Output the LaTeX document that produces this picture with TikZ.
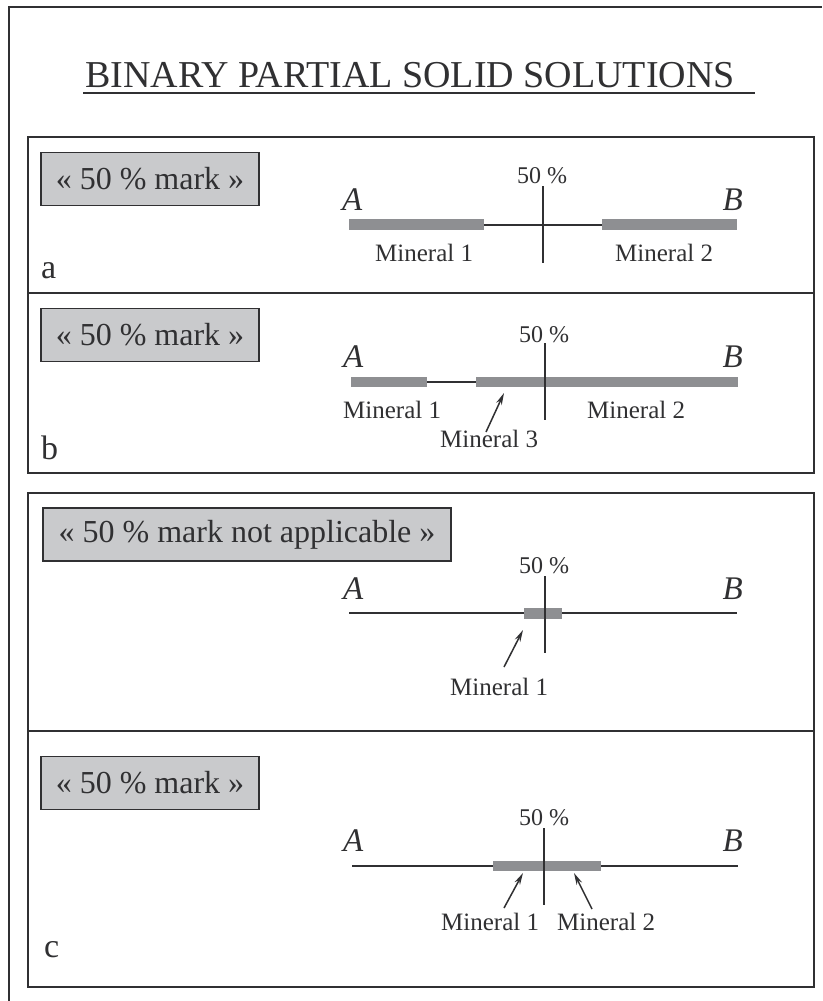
\documentclass[tikz,border=0pt]{standalone}
\usepackage{fontspec}
\setmainfont{Liberation Serif}
\usetikzlibrary{arrows.meta}
\definecolor{ink}{HTML}{303032}
\definecolor{barg}{HTML}{8E8F92}
\definecolor{boxg}{HTML}{C9CACC}
\begin{document}
\begin{tikzpicture}[x=1pt,y=-1pt,
  frame/.style={draw=ink, line width=2.4pt},
  markbox/.style={draw=ink, line width=1.8pt, fill=boxg, text=ink, font=\fontsize{32}{32}\selectfont, inner sep=0pt, minimum height=53pt},
  txt/.style={inner sep=0pt, text=ink},
  lbl/.style={txt, font=\fontsize{25}{25}\selectfont, anchor=base west},
  pct/.style={txt, font=\fontsize{24}{24}\selectfont, anchor=base west},
  endA/.style={txt, font=\fontsize{33}{33}\selectfont\itshape, anchor=base west},
  endB/.style={txt, font=\fontsize{33}{33}\selectfont\itshape, anchor=base east},
  panellbl/.style={txt, font=\fontsize{34}{34}\selectfont, anchor=base west},
  axisline/.style={draw=ink, line width=2pt},
  tickline/.style={draw=ink, line width=2.4pt},
  barfill/.style={fill=barg},
  pointer/.style={draw=ink, line width=1.5pt, -{Stealth[length=12pt,width=6pt]}}
]
\useasboundingbox (0,0) rectangle (822,1001);
\fill[white] (0,0) rectangle (822,1001);
% outer frame (cropped)
\draw[frame] (9,1001) -- (9,7) -- (822,7);
% title
\node[txt, font=\fontsize{38}{38}\selectfont, anchor=base west] (title) at (85,87) {BINARY PARTIAL SOLID SOLUTIONS};
\draw[ink, line width=1.8pt] (83,93) -- (755,93);
% panel boxes
\draw[frame] (28,137) rectangle (814,293);
\draw[frame] (28,293) rectangle (814,473);
\draw[frame] (28,493) rectangle (814,987);
\draw[frame] (28,731) -- (814,731);

% ---------- panel a ----------
\node[markbox, minimum width=218pt] (boxa) at (150,179) {« 50 \% mark »};
\node[panellbl] (la) at (41,278) {a};
\fill[barfill] (349,219) rectangle (484,230);
\fill[barfill] (602,219) rectangle (737,230);
\draw[axisline] (484,224.5) -- (602,224.5);
\draw[tickline] (543,186) -- (543,263);
\node[pct] (pa) at (517,183) {50 \%};
\node[endA] (Aa) at (342,210) {A};
\node[endB] (Ba) at (743,210) {B};
\node[lbl] (ma1) at (375,261) {Mineral 1};
\node[lbl] (ma2) at (615,261) {Mineral 2};

% ---------- panel b ----------
\node[markbox, minimum width=218pt] (boxb) at (150,335) {« 50 \% mark »};
\node[panellbl] (lb) at (41,459) {b};
\fill[barfill] (351,377) rectangle (427,387);
\fill[barfill] (476,377) rectangle (738,387);
\draw[axisline] (427,382) -- (476,382);
\draw[tickline] (545,343) -- (545,420);
\node[pct] (pb) at (519,342) {50 \%};
\node[endA] (Ab) at (343,367) {A};
\node[endB] (Bb) at (743,367) {B};
\node[lbl] (mb1) at (343,418) {Mineral 1};
\node[lbl] (mb2) at (587,418) {Mineral 2};
\node[lbl] (mb3) at (440,447) {Mineral 3};
\coordinate (tb3) at (486,432);
\coordinate (hb3) at (504,393);
\draw[pointer] (tb3) -- (hb3);

% ---------- panel c (upper) ----------
\node[markbox, minimum width=408pt] (boxc1) at (247,534.5) {« 50 \% mark not applicable »};
\draw[axisline] (349,613) -- (737,613);
\fill[barfill] (524,608) rectangle (562,619);
\draw[tickline] (545,576) -- (545,653);
\node[pct] (pc1) at (519,573) {50 \%};
\node[endA] (Ac1) at (343,599) {A};
\node[endB] (Bc1) at (743,599) {B};
\node[lbl] (mc11) at (450,695) {Mineral 1};
\coordinate (tc11) at (504,667);
\coordinate (hc11) at (523,630);
\draw[pointer] (tc11) -- (hc11);

% ---------- panel c (lower) ----------
\node[markbox, minimum width=218pt] (boxc2) at (150,783) {« 50 \% mark »};
\node[panellbl] (lc) at (44,957) {c};
\draw[axisline] (352,866) -- (738,866);
\fill[barfill] (493,861) rectangle (601,871);
\draw[tickline] (544,828) -- (544,905);
\node[pct] (pc2) at (519,825) {50 \%};
\node[endA] (Ac2) at (343,851) {A};
\node[endB] (Bc2) at (743,851) {B};
\node[lbl] (mc21) at (441,930) {Mineral 1};
\node[lbl] (mc22) at (557,930) {Mineral 2};
\coordinate (tc21) at (504,908);
\coordinate (hc21) at (523,873);
\coordinate (tc22) at (592,909);
\coordinate (hc22) at (574,873);
\draw[pointer] (tc21) -- (hc21);
\draw[pointer] (tc22) -- (hc22);
\end{tikzpicture}
\end{document}
